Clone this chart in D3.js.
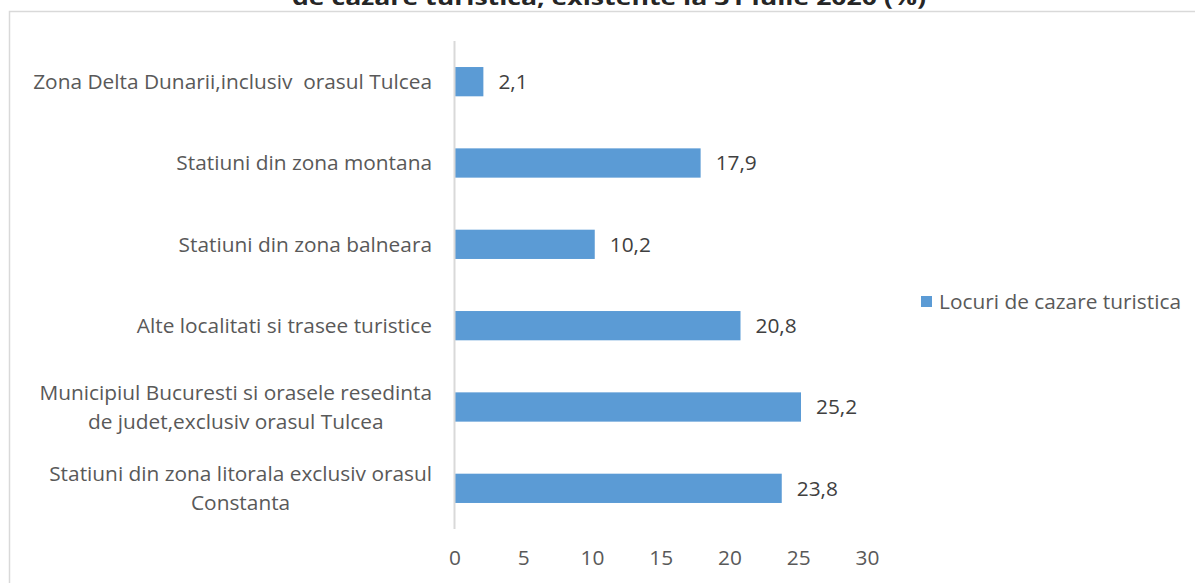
<!DOCTYPE html>
<html>
<head>
<meta charset="utf-8">
<script src="https://cdn.jsdelivr.net/npm/d3@7"></script>
<style>
  html, body { margin: 0; padding: 0; background: #fff; }
  svg { display: block; }
  text { font-family: "Open Sans", Lato, sans-serif; white-space: pre; }
</style>
</head>
<body>
<svg id="chart" width="1195" height="583"></svg>
<script>
const titleText = "de cazare turistica, existente la 31 iulie 2020 (%)";
const categories = [
  "Zona Delta Dunarii,inclusiv  orasul Tulcea",
  "Statiuni din zona montana",
  "Statiuni din zona balneara",
  "Alte localitati si trasee turistice",
  "Municipiul Bucuresti si orasele resedinta\nde judet,exclusiv orasul Tulcea",
  "Statiuni din zona litorala exclusiv orasul\nConstanta"
];
const values = [2.1, 17.9, 10.2, 20.8, 25.2, 23.8];
const valueLabels = ["2,1", "17,9", "10,2", "20,8", "25,2", "23,8"];
const tickValues = [0, 5, 10, 15, 20, 25, 30];
const seriesName = "Locuri de cazare turistica";

const svg = d3.select("#chart");
const barColor = "#5B9BD5";
const textColor = "#595959";

// fit font size so the first label spans the reference width
const probe = svg.append("text").attr("font-size", 20).text(categories[0]);
const fs = 20 * 399 / probe.node().getComputedTextLength();
probe.remove();

// chart border
svg.append("rect")
  .attr("x", 9.5).attr("y", 11.5)
  .attr("width", 1200).attr("height", 600)
  .attr("fill", "none").attr("stroke", "#d9d9d9").attr("stroke-width", 1.5);

// title (partly cut off at top, as in the reference)
svg.append("text")
  .attr("x", 609).attr("y", 5)
  .attr("text-anchor", "middle")
  .attr("font-size", 22).attr("font-weight", "bold")
  .attr("fill", "#262626")
  .attr("textLength", 634).attr("lengthAdjust", "spacingAndGlyphs")
  .text(titleText);

const x = d3.scaleLinear().domain([0, 30]).range([454.5, 867]);
const y = d3.scaleBand().domain(categories).range([41, 529])
  .paddingInner(0.64).paddingOuter(0.32);

// bars
svg.append("g").selectAll("rect")
  .data(values)
  .join("rect")
  .attr("x", x(0))
  .attr("y", (d, i) => y(categories[i]))
  .attr("width", d => x(d) - x(0))
  .attr("height", y.bandwidth())
  .attr("fill", barColor);

// vertical category axis line
svg.append("line")
  .attr("x1", x(0)).attr("x2", x(0))
  .attr("y1", 41).attr("y2", 529)
  .attr("stroke", "#d9d9d9").attr("stroke-width", 2);

// x axis tick labels
const xAxis = d3.axisBottom(x).tickValues(tickValues).tickSize(0).tickPadding(0)
  .tickFormat(d3.format("d"));
const gx = svg.append("g").attr("transform", "translate(0,558)").call(xAxis);
gx.select(".domain").remove();
gx.selectAll("text")
  .attr("font-family", "'Open Sans', Lato, sans-serif")
  .attr("font-size", fs).attr("fill", textColor).attr("dy", "0.35em");

// category labels
const labelRight = 432;
const lineH = 29;
const gl = svg.append("g");
categories.forEach(cat => {
  const lines = cat.split("\n");
  const cy = y(cat) + y.bandwidth() / 2;
  const t = gl.append("text")
    .attr("font-size", fs).attr("fill", textColor)
    .attr("text-anchor", "middle");
  const spans = lines.map((ln, j) => t.append("tspan")
    .attr("y", cy + (j - (lines.length - 1) / 2) * lineH)
    .attr("dy", "0.35em")
    .text(ln));
  const maxW = d3.max(spans, s => s.node().getComputedTextLength());
  spans.forEach(s => s.attr("x", labelRight - maxW / 2));
});

// value labels
svg.append("g").selectAll("text")
  .data(values)
  .join("text")
  .attr("x", d => x(d) + 15)
  .attr("y", (d, i) => y(categories[i]) + y.bandwidth() / 2)
  .attr("dy", "0.35em")
  .attr("font-size", fs).attr("fill", "#404040")
  .text((d, i) => valueLabels[i]);

// legend
const lg = svg.append("g");
lg.append("rect").attr("x", 921).attr("y", 296).attr("width", 11).attr("height", 11).attr("fill", barColor);
lg.append("text").attr("x", 939).attr("y", 301.5).attr("dy", "0.35em")
  .attr("font-size", fs).attr("fill", textColor).text(seriesName);
</script>
</body>
</html>
